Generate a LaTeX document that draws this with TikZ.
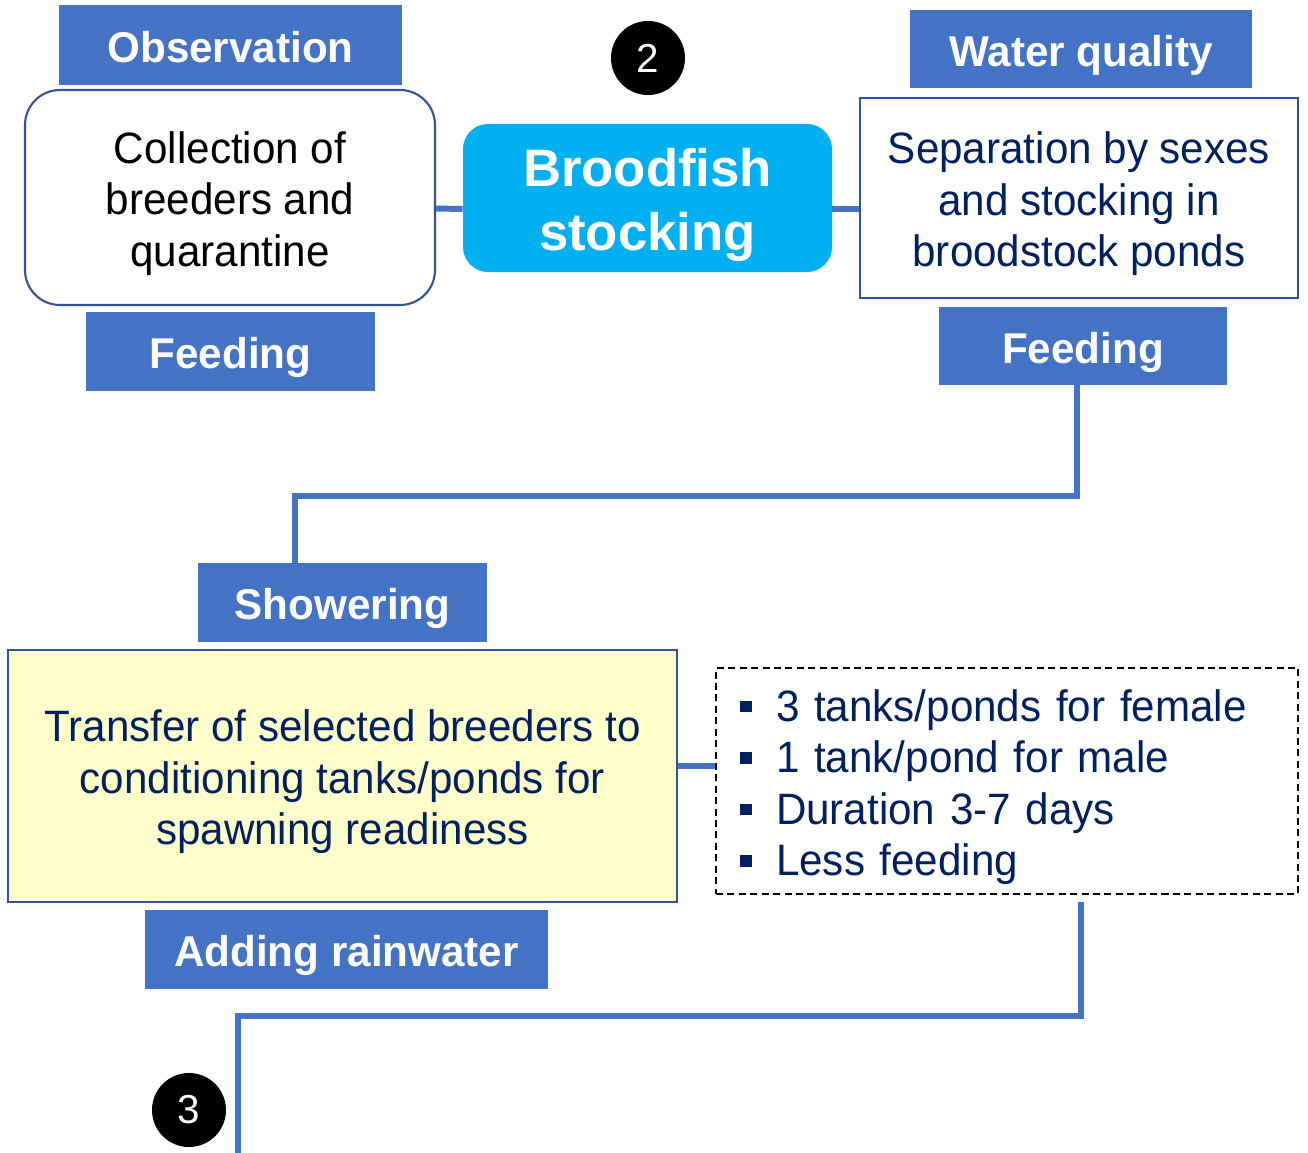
\documentclass[tikz,border=0pt]{standalone}
\usepackage{fontspec}
\setmainfont{Liberation Sans}
\newfontfamily\bodyfont[FakeStretch=0.96]{Liberation Sans}
\newfontfamily\tagfont[FakeStretch=0.98]{Liberation Sans}
\usepackage{tikz}
\usetikzlibrary{arrows}

\definecolor{lblblue}{HTML}{4472C4}
\definecolor{edgeblue}{HTML}{2F5597}
\definecolor{navytext}{HTML}{002060}
\definecolor{cyanbox}{HTML}{00B0F0}
\definecolor{paleyellow}{HTML}{FFFFCC}

\newcommand{\sqbul}{\rule[0.2em]{0.27em}{0.27em}\hspace{0.55em}}
\newcommand{\topstrut}[1]{\rule{0pt}{#1}}

\begin{document}
\begin{tikzpicture}[
    tagbox/.style={fill=lblblue,text=white,inner sep=0pt,text height=19.8pt,text depth=0pt,
      font=\tagfont\bfseries\fontsize{24.5}{28}\selectfont},
    textbox/.style={draw=edgeblue,line width=1.2pt,align=center,inner sep=0pt,
      font=\bodyfont\fontsize{25}{29.3}\selectfont},
    badge/.style={circle,fill=black,text=white,minimum size=1.48cm,inner sep=0pt,
      font=\fontsize{23}{26}\selectfont},
    link/.style={draw=lblblue,line width=3.4pt}
  ]
      \useasboundingbox (0,0) rectangle (26.16,-23.04);

      % step 2
      \node[badge] (two) at (12.96,-1.16) {2};
      \node[tagbox,minimum width=6.86cm,minimum height=1.6cm] (obs) at (4.61,-0.9) {Observation};
      \node[textbox,rounded corners=0.7cm,minimum width=8.2cm,minimum height=4.3cm]
        (coll) at (4.6,-3.95) {\topstrut{25pt}Collection of\\breeders and\\quarantine};
      \node[tagbox,minimum width=5.78cm,minimum height=1.58cm] (feedL) at (4.61,-7.03) {Feeding};

      \node[fill=cyanbox,text=white,rounded corners=0.5cm,align=center,inner sep=0pt,
        minimum width=7.38cm,minimum height=2.96cm,
        font=\bfseries\fontsize{30}{36.3}\selectfont]
        (brood) at (12.95,-3.96) {\topstrut{30pt}Broodfish\\stocking};

      \node[tagbox,minimum width=6.84cm,minimum height=1.56cm] (water) at (21.62,-0.98) {Water quality};
      \node[textbox,text=navytext,minimum width=8.76cm,minimum height=4cm]
        (sep) at (21.58,-3.96) {\topstrut{25pt}Separation by sexes\\and stocking in\\broodstock ponds};
      \node[tagbox,minimum width=5.76cm,minimum height=1.56cm] (feedR) at (21.66,-6.92) {Feeding};

      \draw[link] ([yshift=-0.22cm]coll.east) -- ([yshift=-0.22cm]brood.west);
      \draw[link] ([yshift=-0.22cm]brood.east) -- ([yshift=-0.22cm]sep.west);

      % conditioning
      \node[tagbox,minimum width=5.78cm,minimum height=1.58cm] (shower) at (6.85,-12.05) {Showering};
      \node[textbox,fill=paleyellow,text=navytext,minimum width=13.38cm,minimum height=5.04cm]
        (trans) at (6.85,-15.52) {\topstrut{25pt}Transfer of selected breeders to\\conditioning tanks/ponds for\\spawning readiness};
      \node[tagbox,minimum width=8.06cm,minimum height=1.58cm] (rain) at (6.93,-18.99) {Adding rainwater};

      \node[draw,dashed,line width=0.8pt,dash pattern=on 4pt off 2.5pt,text=navytext,
        align=left,inner xsep=0.48cm,inner ysep=0pt,text width=10.68cm,minimum height=4.52cm,
        font=\bodyfont\fontsize{25}{29.3}\selectfont]
        (notes) at (20.14,-15.62) {\topstrut{25pt}\sqbul 3 tanks/ponds for female\\\sqbul 1 tank/pond for male\\
        \sqbul Duration 3-7 days\\\sqbul Less feeding};

      \draw[link] ([yshift=0.2cm]trans.east) -- ([yshift=0.3cm]notes.west);

      \coordinate (bendA) at (5.9,-9.92);
      \draw[link] ([xshift=-0.12cm]feedR.south) |- (bendA) -- (bendA |- shower.north);

      \coordinate (startB) at (21.62,-18.04);
      \coordinate (bendB) at (4.76,-20.32);
      \coordinate (endB) at (4.76,-23.1);
      \draw[link] (startB) |- (bendB) -- (endB);

      \node[badge] (three) at (3.78,-22.2) {3};
\end{tikzpicture}
\end{document}
